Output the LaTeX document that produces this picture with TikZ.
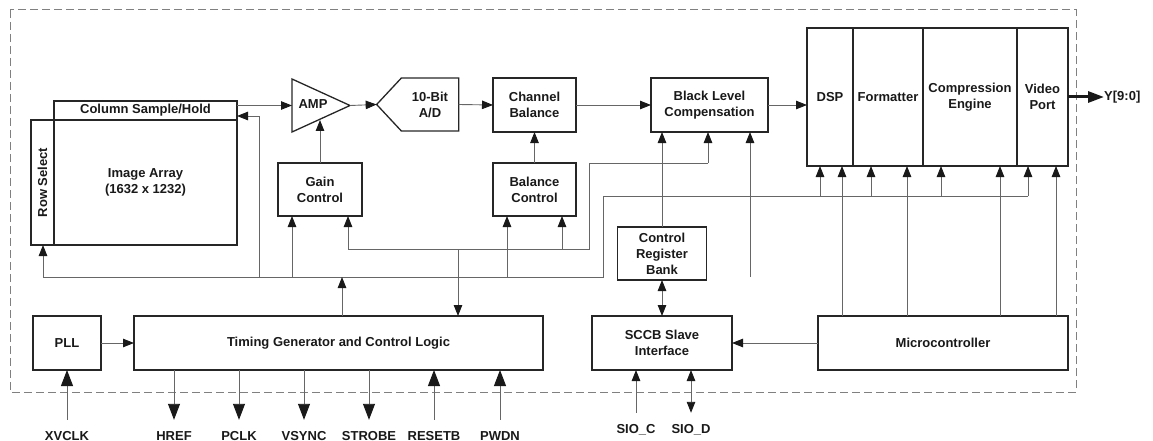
\documentclass[tikz,border=0pt]{standalone}
\usepackage{fontspec}
\setmainfont{Liberation Sans}
\usetikzlibrary{arrows.meta, positioning, shapes}

\begin{document}
\begin{tikzpicture}[x=1pt, y=-1pt,
    font=\bfseries\fontsize{13}{16}\selectfont,
    blk/.style={draw=black!85, line width=1.3pt, inner sep=0pt, outer sep=0pt, align=center, text=black!90},
    wire/.style={draw=black!60, line width=0.9pt},
    sig/.style={wire, -{Triangle[length=11pt, width=8.5pt, color=black!90]}},
    dsig/.style={wire, {Triangle[length=11pt, width=8.5pt, color=black!90]}-{Triangle[length=11pt, width=8.5pt, color=black!90]}},
    pin/.style={wire, -{Triangle[length=16pt, width=12pt, color=black!90]}},
    pinlbl/.style={inner sep=0pt, anchor=base, text height=20pt, text depth=0pt, text=black!90}]
        \useasboundingbox (0,0) rectangle (1153,441);
        \draw[black!50, line width=1pt, dash pattern=on 8pt off 4pt] (10,10) rectangle (1076,392);

        \node[blk, rotate=90, minimum width=125pt, minimum height=23pt] (rowsel) at (42.5,182.5) {Row Select};
        \node[blk, minimum width=183pt, minimum height=19pt] (colsh) at (145.5,110.5) {Column Sample/Hold};
        \node[blk, minimum width=183pt, minimum height=125pt] (imgarr) at (145.5,182.5) {Image Array\\(1632 x 1232)};
        \node[blk, isosceles triangle, isosceles triangle stretches, minimum width=53pt, minimum height=58pt, anchor=west] (amp) at (292,105.5) {};
        \node[text=black!90] (amplbl) at (313,104) {AMP};
        \node[blk, signal, signal to=west, signal pointer angle=94, minimum width=82pt, minimum height=53pt] (adc) at (430,104.5) {10-Bit\\A/D};
        \node[blk, minimum width=83pt, minimum height=54pt] (chb) at (534.5,105) {Channel\\Balance};
        \node[blk, minimum width=117pt, minimum height=54pt, right=75pt of chb] (blc) {Black Level\\Compensation};
        \node[blk, minimum width=83pt, minimum height=53pt, below=31pt of chb] (balc) {Balance\\Control};
        \node[blk, minimum width=84pt, minimum height=53pt] (gain) at (320,189.5) {Gain\\Control};

        \node[blk, minimum width=46pt, minimum height=138pt] (dsp) at (830,97) {DSP};
        \node[blk, minimum width=70pt, minimum height=138pt, right=0pt of dsp] (fmt) {Formatter};
        \node[blk, minimum width=94pt, minimum height=138pt, right=0pt of fmt] (comp) {Compression\\Engine};
        \node[blk, minimum width=51pt, minimum height=138pt, right=0pt of comp] (vport) {Video\\Port};
        \node[inner sep=0pt, text=black!90, right=36pt of vport] (yout) {Y[9:0]};

        \node[blk, minimum width=68pt, minimum height=54pt] (pll) at (67,343) {PLL};
        \node[blk, minimum width=409pt, minimum height=54pt, right=33pt of pll] (timing) {Timing Generator and Control Logic};
        \node[blk, minimum width=140pt, minimum height=54pt] (sccb) at (662,343) {SCCB Slave\\Interface};
        \node[blk, minimum width=250pt, minimum height=54pt, right=86pt of sccb] (micro) {Microcontroller};
        \node[blk, minimum width=89pt, minimum height=53pt, above=36pt of sccb] (crb) {Control\\Register\\Bank};

        \draw[sig] (colsh.east |- amp.west) -- (amp.west);
        \draw[sig] (amp.east) -- (adc.west);
        \draw[sig] (adc.east) -- (chb.west);
        \draw[sig] (chb.east) -- (blc.west);
        \draw[sig] (blc.east) -- (blc.east -| dsp.west);
        \draw[black!90, line width=3pt, -{Triangle[length=16pt, width=11pt]}] (vport.east) -- (yout.west);
        \draw[sig] (gain.north) -- (gain.north |- 0,120);
        \draw[sig] (balc.north) -- (chb.south);
        \draw[sig] (crb.north) -- (crb.north |- blc.south);
        \draw[dsig] (crb.south) -- (sccb.north);
        \draw[sig] (micro.west) -- (sccb.east);
        \draw[sig] (pll.east) -- (timing.west);

        \draw[wire] (43,277) -- (603,277) -- (603,196) -- (1028,196);
        \draw[sig] (43,277) -- (43,0 |- rowsel.west);
        \draw[sig] (259,277) -- (259,116) -- (259,116 -| colsh.east);
        \draw[sig] (342,0 |- timing.north) -- (342,277);
        \foreach \x/\n in {292/gain, 507/balc, 750/blc} \draw[sig] (\x,277) -- (\x,0 |- \n.south);
        \foreach \x/\n in {820/dsp, 871/fmt, 941/comp, 1028/vport} \draw[sig] (\x,196) -- (\x,0 |- \n.south);
        \foreach \x/\n in {842/dsp, 907/fmt, 1000/comp, 1056/vport} \draw[sig] (\x,0 |- micro.north) -- (\x,0 |- \n.south);

        \draw[wire] (348,249) -- (589,249) -- (589,163) -- (708,163);
        \draw[sig] (708,163) -- (708,0 |- blc.south);
        \foreach \x/\n in {348/gain, 562/balc} \draw[sig] (\x,249) -- (\x,0 |- \n.south);
        \draw[sig] (458,249) -- (458,0 |- timing.north);

        \node[pinlbl] (xvclk) at (67,440) {XVCLK};
        \draw[pin] (xvclk.north) -- (xvclk |- pll.south);
        \foreach \x/\n/\t in {174/href/HREF, 239/pclk/PCLK, 304/vsync/VSYNC, 369/strobe/STROBE} {
            \node[pinlbl] (\n) at (\x,440) {\t};
            \draw[pin] (\n |- timing.south) -- (\n.north);
        }
        \foreach \x/\n/\t in {434/resetb/RESETB, 500/pwdn/PWDN} {
            \node[pinlbl] (\n) at (\x,440) {\t};
            \draw[pin] (\n.north) -- (\n |- timing.south);
        }
        \node[pinlbl] (sioc) at (636,433) {SIO\_C};
        \node[pinlbl] (siod) at (691,433) {SIO\_D};
        \draw[sig] (sioc.north) -- (sioc |- sccb.south);
        \draw[dsig] (siod.north) -- (siod |- sccb.south);
    \end{tikzpicture}
\end{document}
